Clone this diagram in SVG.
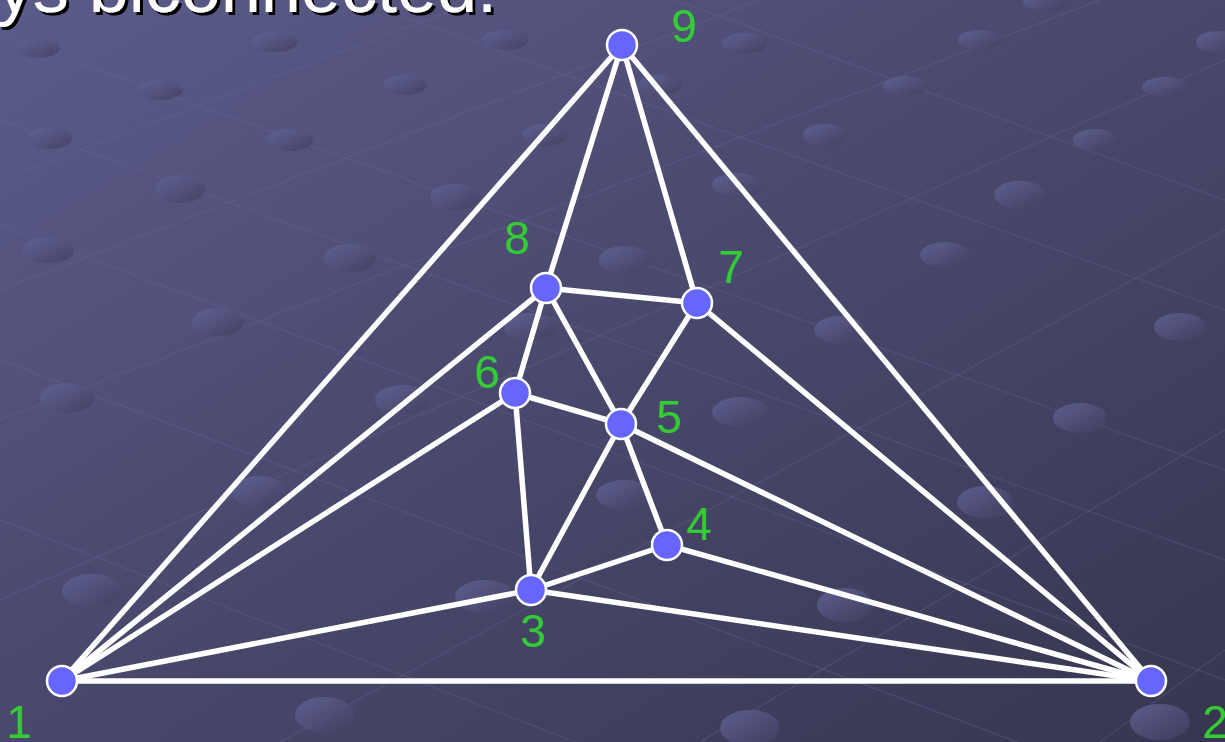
<svg xmlns="http://www.w3.org/2000/svg" width="1225" height="742" viewBox="0 0 1225 742">
<defs>
<linearGradient id="bg" x1="0" y1="0" x2="1" y2="1">
<stop offset="0" stop-color="#5b5b8a"/>
<stop offset="0.5" stop-color="#48486c"/>
<stop offset="1" stop-color="#363650"/>
</linearGradient>
<linearGradient id="dot" x1="0" y1="0" x2="1" y2="1">
<stop offset="0" stop-color="#65659a"/>
<stop offset="1" stop-color="#3e3e5e"/>
</linearGradient>
<filter id="sh" x="-5%" y="-5%" width="110%" height="120%">
<feDropShadow dx="3" dy="3" stdDeviation="0" flood-color="#000"/>
</filter>
<style>
.deco line{stroke:#6a6a9a;stroke-width:1.5;opacity:0.28}
.deco ellipse{fill:url(#dot);opacity:0.8}
.edge{stroke:#ffffff;stroke-width:5.5;stroke-linecap:round}
.node circle{fill:#6666ff;stroke:#ffffff;stroke-width:2.5}
.lbl{font-family:"Liberation Sans",Arial,sans-serif;font-size:46px;fill:#33cc33;text-anchor:middle}
.title{font-family:"Liberation Sans",Arial,sans-serif;font-size:72px;fill:#ffffff;text-anchor:end}
</style>
</defs>
<rect width="1225" height="742" fill="url(#bg)"/>
<g class="deco">
<line x1="0" y1="35" x2="1225" y2="470"/>
<line x1="0" y1="120" x2="1225" y2="560"/>
<line x1="0" y1="225" x2="1225" y2="680"/>
<line x1="0" y1="360" x2="1225" y2="820"/>
<line x1="0" y1="520" x2="700" y2="790"/>
<line x1="300" y1="-20" x2="1225" y2="310"/>
<line x1="620" y1="-20" x2="1225" y2="200"/>
<line x1="0" y1="180" x2="480" y2="0"/>
<line x1="0" y1="290" x2="760" y2="0"/>
<line x1="0" y1="420" x2="1100" y2="0"/>
<line x1="0" y1="600" x2="1225" y2="60"/>
<line x1="280" y1="742" x2="1225" y2="230"/>
<line x1="700" y1="742" x2="1225" y2="430"/>
<line x1="1100" y1="742" x2="1225" y2="650"/>
<ellipse cx="38" cy="48" rx="22" ry="10"/>
<ellipse cx="160" cy="90" rx="23" ry="10"/>
<ellipse cx="275" cy="42" rx="23" ry="10"/>
<ellipse cx="405" cy="85" rx="22" ry="10"/>
<ellipse cx="505" cy="40" rx="23" ry="10"/>
<ellipse cx="745" cy="43" rx="23" ry="10"/>
<ellipse cx="905" cy="86" rx="22" ry="10"/>
<ellipse cx="980" cy="40" rx="22" ry="10"/>
<ellipse cx="1045" cy="2" rx="22" ry="10"/>
<ellipse cx="1165" cy="87" rx="23" ry="10"/>
<ellipse cx="1218" cy="42" rx="22" ry="11"/>
<ellipse cx="50" cy="138" rx="22" ry="11"/>
<ellipse cx="290" cy="140" rx="23" ry="11"/>
<ellipse cx="545" cy="135" rx="23" ry="11"/>
<ellipse cx="660" cy="85" rx="22" ry="10"/>
<ellipse cx="825" cy="135" rx="22" ry="11"/>
<ellipse cx="1095" cy="140" rx="22" ry="11"/>
<ellipse cx="180" cy="189" rx="25" ry="14"/>
<ellipse cx="455" cy="197" rx="25" ry="13"/>
<ellipse cx="737" cy="185" rx="25" ry="12"/>
<ellipse cx="1020" cy="195" rx="26" ry="14"/>
<ellipse cx="48" cy="250" rx="26" ry="13"/>
<ellipse cx="350" cy="258" rx="26" ry="14"/>
<ellipse cx="625" cy="260" rx="26" ry="14"/>
<ellipse cx="945" cy="255" rx="25" ry="13"/>
<ellipse cx="218" cy="322" rx="26" ry="14"/>
<ellipse cx="530" cy="327" rx="26" ry="14"/>
<ellipse cx="840" cy="330" rx="26" ry="14"/>
<ellipse cx="1180" cy="327" rx="26" ry="14"/>
<ellipse cx="67" cy="398" rx="27" ry="15"/>
<ellipse cx="402" cy="400" rx="27" ry="15"/>
<ellipse cx="740" cy="412" rx="28" ry="15"/>
<ellipse cx="1080" cy="418" rx="27" ry="15"/>
<ellipse cx="260" cy="492" rx="28" ry="16"/>
<ellipse cx="624" cy="495" rx="28" ry="15"/>
<ellipse cx="985" cy="502" rx="28" ry="16"/>
<ellipse cx="92" cy="591" rx="30" ry="17"/>
<ellipse cx="485" cy="597" rx="30" ry="17"/>
<ellipse cx="845" cy="605" rx="28" ry="17"/>
<ellipse cx="325" cy="715" rx="30" ry="18"/>
<ellipse cx="750" cy="728" rx="30" ry="18"/>
<ellipse cx="1160" cy="722" rx="30" ry="18"/>
</g>
<text class="title" x="497" y="12" filter="url(#sh)">always biconnected.</text>
<g id="connectors">
<line class="edge" x1="62" y1="681" x2="622" y2="45"/>
<line class="edge" x1="62" y1="681" x2="1151" y2="681"/>
<line class="edge" x1="62" y1="681" x2="546" y2="288"/>
<line class="edge" x1="62" y1="681" x2="515" y2="393"/>
<line class="edge" x1="62" y1="681" x2="531" y2="590"/>
<line class="edge" x1="622" y1="45" x2="546" y2="288"/>
<line class="edge" x1="622" y1="45" x2="697" y2="303"/>
<line class="edge" x1="622" y1="45" x2="1151" y2="681"/>
<line class="edge" x1="546" y1="288" x2="697" y2="303"/>
<line class="edge" x1="546" y1="288" x2="515" y2="393"/>
<line class="edge" x1="546" y1="288" x2="621" y2="424"/>
<line class="edge" x1="697" y1="303" x2="621" y2="424"/>
<line class="edge" x1="697" y1="303" x2="1151" y2="681"/>
<line class="edge" x1="515" y1="393" x2="621" y2="424"/>
<line class="edge" x1="515" y1="393" x2="531" y2="590"/>
<line class="edge" x1="621" y1="424" x2="531" y2="590"/>
<line class="edge" x1="621" y1="424" x2="667" y2="545"/>
<line class="edge" x1="621" y1="424" x2="1151" y2="681"/>
<line class="edge" x1="667" y1="545" x2="531" y2="590"/>
<line class="edge" x1="667" y1="545" x2="1151" y2="681"/>
<line class="edge" x1="531" y1="590" x2="1151" y2="681"/>
</g>
<g id="node1" class="node"><circle cx="62" cy="681" r="15"/><text class="lbl" x="19" y="738">1</text></g>
<g id="node2" class="node"><circle cx="1151" cy="681" r="15"/><text class="lbl" x="1215" y="738">2</text></g>
<g id="node3" class="node"><circle cx="531" cy="590" r="15"/><text class="lbl" x="533" y="647">3</text></g>
<g id="node4" class="node"><circle cx="667" cy="545" r="15"/><text class="lbl" x="699" y="540">4</text></g>
<g id="node5" class="node"><circle cx="621" cy="424" r="15"/><text class="lbl" x="669" y="433">5</text></g>
<g id="node6" class="node"><circle cx="515" cy="393" r="15"/><text class="lbl" x="487" y="388">6</text></g>
<g id="node7" class="node"><circle cx="697" cy="303" r="15"/><text class="lbl" x="731" y="283">7</text></g>
<g id="node8" class="node"><circle cx="546" cy="288" r="15"/><text class="lbl" x="517" y="254">8</text></g>
<g id="node9" class="node"><circle cx="622" cy="45" r="15"/><text class="lbl" x="684" y="42">9</text></g>
</svg>
